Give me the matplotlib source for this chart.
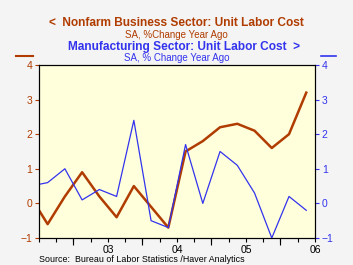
import matplotlib
matplotlib.use("Agg")
import matplotlib.pyplot as plt
from matplotlib.lines import Line2D

plt.rcParams['font.family'] = ['Liberation Sans', 'DejaVu Sans']

# quarterly, 2001Q4 .. 2005Q4 (first point sits just left of the axis)
quarters = [-0.5 + i for i in range(17)]
nonfarm = [0.2, -0.6, 0.2, 0.9, 0.2, -0.4, 0.5, -0.1, -0.7,
           1.5, 1.8, 2.2, 2.3, 2.1, 1.6, 2.0, 3.2]
manuf = [0.5, 0.6, 1.0, 0.1, 0.4, 0.2, 2.4, -0.5, -0.7,
         1.7, 0.0, 1.5, 1.1, 0.3, -1.0, 0.2, -0.2]
year_pos = [4, 8, 12, 16]
year_labels = ['03', '04', '05', '06']
yticks = [-1, 0, 1, 2, 3, 4]

orange = '#b03c00'
blue = '#3333ee'

fig = plt.figure(figsize=(3.53, 2.65), dpi=100, facecolor='#f4f4f4')
ax = fig.add_axes([0.1105, 0.102, 0.7815, 0.6528])
ax.set_facecolor('#ffffdc')
ax2 = ax.twinx()

ax.plot(quarters, nonfarm, color=orange, lw=1.8, clip_on=True)
ax2.plot(quarters, manuf, color=blue, lw=0.9, clip_on=True)

ax.set_xlim(0, 16)
ax.set_ylim(-1, 4)
ax2.set_ylim(-1, 4)

ax.set_yticks(yticks)
ax2.set_yticks(yticks)
ax.tick_params(axis='y', colors=orange, labelsize=7.5, length=3, width=0.8, pad=2)
ax2.tick_params(axis='y', colors=blue, labelsize=7.5, length=3, width=0.8, pad=2)
for lab in ax.get_yticklabels():
    lab.set_color(orange)
for lab in ax2.get_yticklabels():
    lab.set_color(blue)

ax.set_xticks(year_pos)
ax.set_xticklabels(year_labels)
ax.set_xticks(range(17), minor=True)
ax.tick_params(axis='x', which='both', length=3, width=0.8, labelsize=7.5, pad=2)
# longer mid-year ticks
sec = ax.secondary_xaxis('bottom')
sec.set_xticks([2, 6, 10, 14])
sec.set_xticklabels([])
sec.tick_params(length=5, width=0.8)
sec.spines['bottom'].set_visible(False)

for a in (ax, ax2):
    for s in a.spines.values():
        s.set_linewidth(0.8)

# titles
fig.text(0.5, 0.913, '<  Nonfarm Business Sector: Unit Labor Cost', color=orange,
         fontsize=8.6, fontweight='bold', ha='center', va='center')
fig.text(0.5, 0.868, 'SA, %Change Year Ago', color=orange,
         fontsize=7, ha='center', va='center')
fig.text(0.521, 0.823, 'Manufacturing Sector: Unit Labor Cost  >', color=blue,
         fontsize=8.6, fontweight='bold', ha='center', va='center')
fig.text(0.5, 0.78, 'SA, % Change Year Ago', color=blue,
         fontsize=7, ha='center', va='center')

# axis markers
fig.add_artist(Line2D([16 / 353, 33 / 353], [1 - 55.6 / 265] * 2, color=orange, lw=1.5))
fig.add_artist(Line2D([321 / 353, 336 / 353], [1 - 55.6 / 265] * 2, color=blue, lw=1.2))

fig.text(39 / 353, 1 - 260 / 265, 'Source:  Bureau of Labor Statistics /Haver Analytics',
         fontsize=6.4, ha='left', va='center')

fig.savefig('out.png', dpi=100, facecolor=fig.get_facecolor())
